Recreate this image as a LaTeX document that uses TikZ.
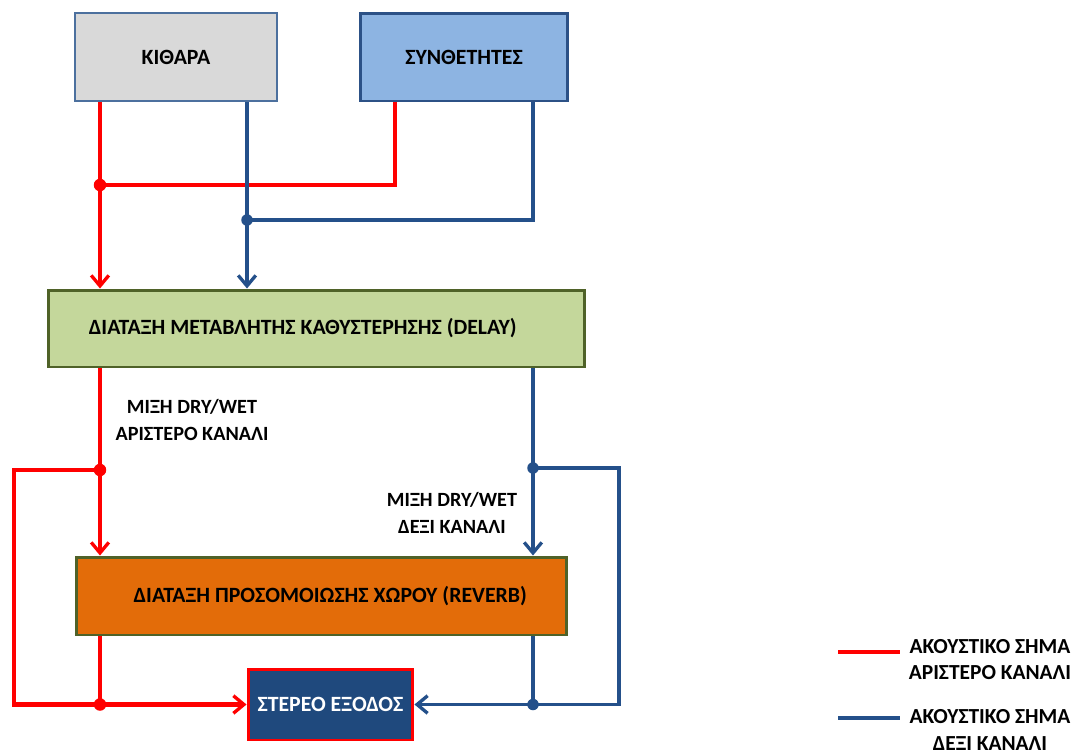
\documentclass[tikz,border=0pt]{standalone}
\usepackage{fontspec}
\setmainfont{Carlito}
\usepackage{xcolor}
\usetikzlibrary{arrows.meta}
\definecolor{sig-red}{HTML}{FF0000}
\definecolor{sig-blue}{HTML}{24508A}
\definecolor{olive-edge}{HTML}{4F6228}
\tikzset{
    block/.style = {draw, rectangle, font=\fontsize{12.4}{15}\selectfont\bfseries, inner sep=2pt},
    box-guitar/.style = {block, fill={rgb,255:red,217;green,217;blue,217}, draw={rgb,255:red,76;green,112;blue,158}, line width=1.3pt},
    box-synth/.style = {block, fill={rgb,255:red,141;green,180;blue,226}, draw={rgb,255:red,44;green,81;blue,134}, line width=1.7pt},
    box-delay/.style = {block, fill={rgb,255:red,196;green,215;blue,155}, draw=olive-edge, line width=1.7pt},
    box-reverb/.style = {block, fill={rgb,255:red,227;green,108;blue,9}, draw=olive-edge, line width=1.7pt},
    box-out/.style = {block, fill={rgb,255:red,31;green,73;blue,125}, draw=sig-red, line width=1.7pt, text=white},
    sig-left/.style = {draw=sig-red, line width=2.4pt},
    sig-right/.style = {draw=sig-blue, line width=2pt},
    sig-arrow/.style = {-{Straight Barb[length=6pt,width=10pt,line width=1.9pt]}},
    dot-left/.style = {circle, fill=sig-red, inner sep=0pt, minimum size=0.25cm},
    dot-right/.style = {circle, fill=sig-blue, inner sep=0pt, minimum size=0.23cm},
    mix-label/.style = {align=center, font=\fontsize{11.5}{15.3}\selectfont\bfseries},
    key-label/.style = {align=center, font=\fontsize{12.2}{15.3}\selectfont\bfseries},
}

\begin{document}
\begin{tikzpicture}[x=0.02cm, y=-0.02cm]
\useasboundingbox (0,0) rectangle (1076,751);

% sources and processing blocks
\node[box-guitar, minimum width=4.04cm, minimum height=1.76cm] (guitar) at (176,57) {ΚΙΘΑΡΑ};
\node[box-synth, minimum width=4.16cm, minimum height=1.76cm] (synth) at (464,57) {ΣΥΝΘΕΤΗΤΕΣ};
\node[box-delay, minimum width=10.74cm, minimum height=1.54cm] (delay) at (316.5,328.5) {ΔΙΑΤΑΞΗ ΜΕΤΑΒΛΗΤΗΣ ΚΑΘΥΣΤΕΡΗΣΗΣ (DELAY)\hspace*{0.55cm}};
\node[box-reverb, minimum width=9.82cm, minimum height=1.56cm] (reverb) at (321.5,596) {\hspace*{0.35cm}ΔΙΑΤΑΞΗ ΠΡΟΣΟΜΟΙΩΣΗΣ ΧΩΡΟΥ (REVERB)};
\node[box-out, minimum width=3.3cm, minimum height=1.42cm] (out) at (330.5,704.5) {ΣΤΕΡΕΟ ΕΞΟΔΟΣ};

% junction points
\coordinate (join-l1) at (100,185);
\coordinate (synth-l) at (395,185);
\coordinate (join-r1) at (247,220);
\coordinate (synth-r) at (533,220);
\coordinate (join-l2) at (100,470);
\coordinate (loop-l) at (14,470);
\coordinate (join-r2) at (533,468);
\coordinate (loop-r) at (619,468);

% into the delay
\draw[sig-left, sig-arrow] (guitar.south -| join-l1) -- (delay.north -| join-l1);
\draw[sig-left] (synth.south -| synth-l) |- (join-l1);
\draw[sig-right, sig-arrow] (guitar.south -| join-r1) -- (delay.north -| join-r1);
\draw[sig-right] (synth.south -| synth-r) |- (join-r1);

% delay to reverb
\draw[sig-left, sig-arrow] (delay.south -| join-l2) -- (reverb.north -| join-l2);
\draw[sig-right, sig-arrow] (delay.south -| join-r2) -- (reverb.north -| join-r2);

% dry paths and reverb outputs
\draw[sig-left, sig-arrow] (join-l2) -- (loop-l) |- (out.west);
\draw[sig-left] (reverb.south -| join-l2) -- (out.west -| join-l2) coordinate (join-l3);
\draw[sig-right, sig-arrow] (join-r2) -- (loop-r) |- (out.east);
\draw[sig-right] (reverb.south -| join-r2) -- (out.east -| join-r2) coordinate (join-r3);

\node[dot-left] at (join-l1) {};
\node[dot-right] at (join-r1) {};
\node[dot-left] at (join-l2) {};
\node[dot-right] at (join-r2) {};
\node[dot-left] at (join-l3) {};
\node[dot-right] at (join-r3) {};

\node[mix-label] (mix-left) at (192,420) {ΜΙΞΗ DRY/WET\\ΑΡΙΣΤΕΡΟ ΚΑΝΑΛΙ};
\node[mix-label] (mix-right) at (452,513) {ΜΙΞΗ DRY/WET\\ΔΕΞΙ ΚΑΝΑΛΙ};

% legend
\coordinate (key-l-a) at (838,652);
\coordinate (key-l-b) at (900,652);
\coordinate (key-r-a) at (838,718);
\coordinate (key-r-b) at (900,718);
\draw[sig-left] (key-l-a) -- (key-l-b);
\draw[sig-right] (key-r-a) -- (key-r-b);
\node[key-label] (key-left) at (990,659.5) {ΑΚΟΥΣΤΙΚΟ ΣΗΜΑ\\ΑΡΙΣΤΕΡΟ ΚΑΝΑΛΙ};
\node[key-label] (key-right) at (990,730) {ΑΚΟΥΣΤΙΚΟ ΣΗΜΑ\\ΔΕΞΙ ΚΑΝΑΛΙ};
\end{tikzpicture}
\end{document}
